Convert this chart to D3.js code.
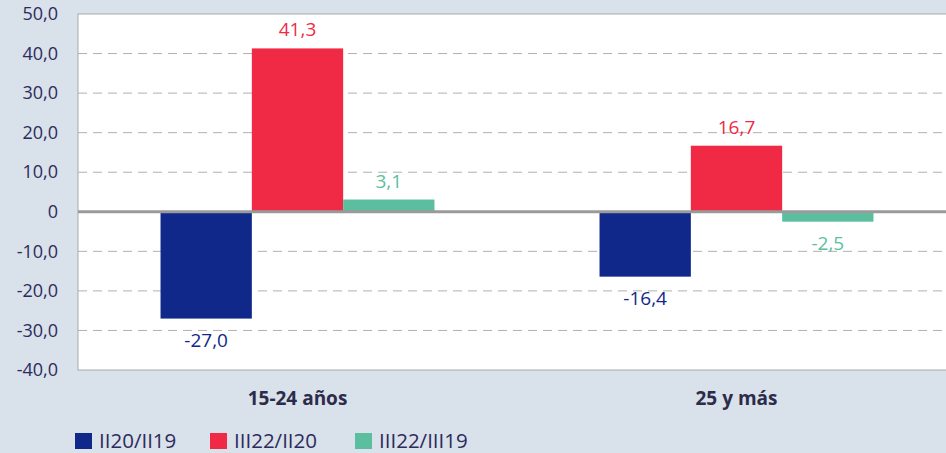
<!DOCTYPE html>
<meta charset="utf-8">
<title>Variación por edad</title>
<style>
    body { margin: 0; background: #d9e1ea; }
    text { font-family: "Open Sans", "Noto Sans", sans-serif; }
</style>
<body>
<div id="chart"></div>
<script src="https://d3js.org/d3.v7.min.js"></script>
<script>
    // data
    var categories = ["15-24 años", "25 y más"];
    var series = ["II20/II19", "III22/II20", "III22/III19"];
    var colors = ["#10288a", "#f02a45", "#5bbf9f"];
    var values = [
        [-27.0, 41.3, 3.1],
        [-16.4, 16.7, -2.5]
    ];
    var yTicks = [50, 40, 30, 20, 10, 0, -10, -20, -30, -40];

    // plot area (right edge runs past the window, as in the original)
    var W = 946, H = 453;
    var plotLeft = 78, plotTop = 14, plotBottom = 370, plotRight = 956;

    // comma decimals, plain hyphen for negatives
    var fmt = function (v) {
        return v === 0 ? "0" : d3.format(".1f")(v).replace(".", ",").replace("\u2212", "-");
    };

    var svg = d3.select("#chart").append("svg")
        .attr("width", W).attr("height", H);

    var y = d3.scaleLinear().domain([-40, 50]).range([plotBottom, plotTop]);
    var x0 = d3.scaleBand().domain(categories).range([plotLeft, plotRight])
        .paddingInner(0.376).paddingOuter(0.188);
    var x1 = d3.scaleBand().domain(series).range([0, x0.bandwidth()]);

    // plot background
    svg.append("rect")
        .attr("x", plotLeft).attr("y", plotTop)
        .attr("width", plotRight - plotLeft).attr("height", plotBottom - plotTop)
        .attr("fill", "#fff").attr("stroke", "#aaa");

    // grid lines
    svg.append("g").selectAll("line")
        .data(yTicks.filter(function (d) { return d !== 0 && d !== 50 && d !== -40; }))
        .enter().append("line")
        .attr("x1", plotLeft).attr("x2", plotRight)
        .attr("y1", function (d) { return y(d); })
        .attr("y2", function (d) { return y(d); })
        .attr("stroke", "#b0b0b0")
        .attr("stroke-dasharray", "9,6");

    // y axis labels
    var yAxis = svg.append("g")
        .attr("transform", "translate(" + (plotLeft - 20) + ",0)")
        .call(d3.axisLeft(y).tickValues(yTicks).tickSize(0).tickPadding(0).tickFormat(fmt));
    yAxis.select(".domain").remove();
    yAxis.selectAll("text")
        .attr("fill", "#2d2b5c")
        .style("font-size", "18px")
        .style("font-family", "'Open Sans', sans-serif");

    // bars
    var groups = svg.append("g").selectAll("g")
        .data(values)
        .enter().append("g")
        .attr("transform", function (d, i) { return "translate(" + x0(categories[i]) + ",0)"; });

    groups.selectAll("rect")
        .data(function (d) { return d; })
        .enter().append("rect")
        .attr("x", function (d, i) { return x1(series[i]); })
        .attr("y", function (d) { return y(Math.max(0, d)); })
        .attr("width", x1.bandwidth())
        .attr("height", function (d) { return Math.abs(y(d) - y(0)); })
        .attr("fill", function (d, i) { return colors[i]; });

    groups.selectAll("text")
        .data(function (d) { return d; })
        .enter().append("text")
        .attr("x", function (d, i) { return x1(series[i]) + x1.bandwidth() / 2; })
        .attr("y", function (d) { return d >= 0 ? y(d) - 12 : y(d) + 28; })
        .attr("text-anchor", "middle")
        .attr("fill", function (d, i) { return colors[i]; })
        .style("font-size", "19px")
        .text(fmt);

    // zero line
    svg.append("line")
        .attr("x1", plotLeft).attr("x2", plotRight)
        .attr("y1", y(0)).attr("y2", y(0))
        .attr("stroke", "#9a9a9a")
        .attr("stroke-width", 3);

    // category labels
    svg.append("g").selectAll("text")
        .data(categories)
        .enter().append("text")
        .attr("x", function (d) { return x0(d) + x0.bandwidth() / 2; })
        .attr("y", 405)
        .attr("text-anchor", "middle")
        .attr("fill", "#2d2b4a")
        .style("font-size", "19px")
        .style("font-weight", "bold")
        .text(function (d) { return d; });

    // legend
    var legendX = [75, 210, 355];
    var legend = svg.append("g").selectAll("g")
        .data(series)
        .enter().append("g")
        .attr("transform", function (d, i) { return "translate(" + legendX[i] + ",433)"; });
    legend.append("rect")
        .attr("width", 17).attr("height", 16)
        .attr("fill", function (d, i) { return colors[i]; });
    legend.append("text")
        .attr("x", 24).attr("y", 15)
        .attr("fill", "#2d2b5c")
        .style("font-size", "20.5px")
        .text(function (d) { return d; });
</script>
</body>
